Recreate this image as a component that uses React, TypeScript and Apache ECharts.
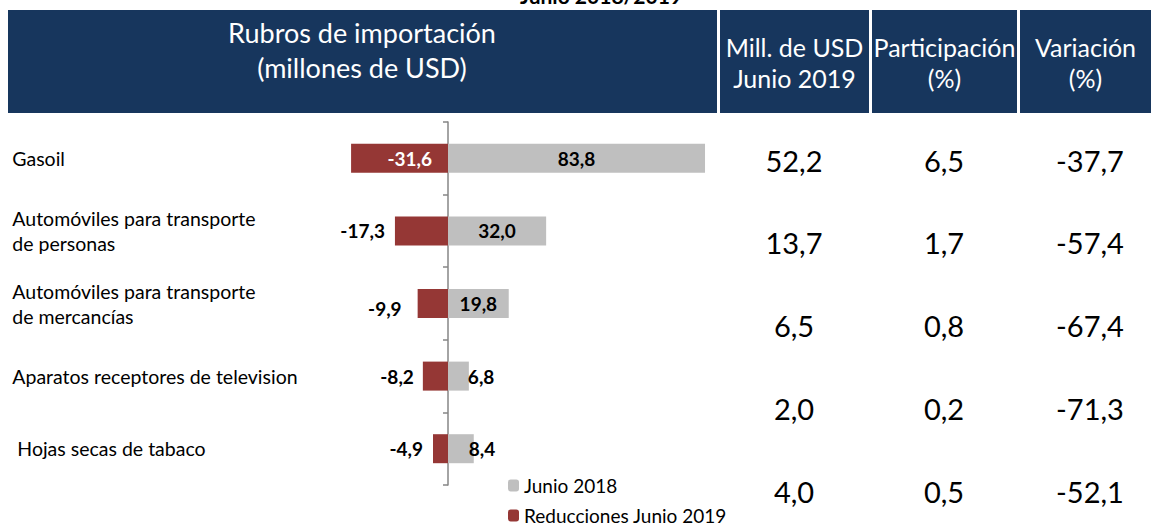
import React, { useEffect, useRef } from "react";
import * as echarts from "echarts";

const categories = [
  "Gasoil",
  "Automóviles para transporte\nde personas",
  "Automóviles para transporte\nde mercancías",
  "Aparatos receptores de television",
  "Hojas secas de tabaco",
];
const junio2018 = [83.8, 32.0, 19.8, 6.8, 8.4];
const reducciones2019 = [-31.6, -17.3, -9.9, -8.2, -4.9];
const millJunio2019 = [52.2, 13.7, 6.5, 2.0, 4.0];
const participacion = [6.5, 1.7, 0.8, 0.2, 0.5];
const variacion = [-37.7, -57.4, -67.4, -71.3, -52.1];

const seriesNames = ["Junio 2018", "Reducciones Junio 2019"];
const headerLeft = "Rubros de importación\n(millones de USD)";
const headerCols = ["Mill. de USD\nJunio 2019", "Participación\n(%)", "Variación\n(%)"];
const topTitle = "Junio 2018/2019";

const FONT = "Lato";
const NAVY = "#17365D";
const GREY = "#BFBFBF";
const RED = "#953735";

const fmt = (v: number) => v.toFixed(1).replace(".", ",");

export default function App() {
  const ref = useRef<HTMLDivElement>(null);
  useEffect(() => {
    if (!ref.current) return;
    const chart = echarts.init(ref.current, undefined, { renderer: "svg" });

    const greyLabels = [
      { position: "inside" },
      { position: "inside" },
      { position: "inside" },
      { position: "right", distance: -1 },
      { position: "right", distance: -5 },
    ];
    const redLabels = [
      { position: "insideRight", distance: 16, color: "#ffffff" },
      { position: "left", distance: 10 },
      { position: "left", distance: 16, offset: [0, 5] },
      { position: "left", distance: 9 },
      { position: "left", distance: 10 },
    ];

    const colX = [794, 944, 1090];
    const tableCols = [millJunio2019, participacion, variacion];
    const tableTexts: any[] = [];
    tableCols.forEach((col, c) => {
      col.forEach((v, i) => {
        tableTexts.push({
          type: "text",
          x: colX[c],
          y: 160 + i * 82.8,
          style: {
            text: fmt(v),
            align: "center",
            verticalAlign: "middle",
            font: `29px ${FONT}`,
            fill: "#000000",
          },
        });
      });
    });

    const headerBoxes = [
      [8, 709],
      [720, 149],
      [872, 145],
      [1020, 131],
    ];
    const headerGraphics: any[] = headerBoxes.map(([x, w]) => ({
      type: "rect",
      shape: { x, y: 10, width: w, height: 103 },
      style: { fill: NAVY },
    }));
    headerGraphics.push({
      type: "text",
      x: 362,
      y: 50,
      style: {
        text: headerLeft,
        align: "center",
        verticalAlign: "middle",
        font: `27px ${FONT}`,
        lineHeight: 35,
        fill: "#ffffff",
      },
    });
    headerCols.forEach((t, i) => {
      const [x, w] = headerBoxes[i + 1];
      headerGraphics.push({
        type: "text",
        x: x + w / 2,
        y: 62,
        style: {
          text: t,
          align: "center",
          verticalAlign: "middle",
          font: `25px ${FONT}`,
          lineHeight: 31,
          fill: "#ffffff",
        },
      });
    });
    headerGraphics.push({
      type: "text",
      x: 601,
      y: 6,
      style: {
        text: topTitle,
        align: "center",
        verticalAlign: "bottom",
        font: `bold 21px ${FONT}`,
        fill: "#000000",
      },
    });

    const legendCommon = {
      orient: "vertical",
      left: 508,
      padding: 0,
      itemWidth: 11,
      itemHeight: 12,
      textStyle: { fontFamily: FONT, fontSize: 19, color: "#000000" },
    };

    chart.setOption({
      animation: false,
      backgroundColor: "#ffffff",
      textStyle: { fontFamily: FONT },
      grid: {
        left: 141.3,
        right: 89.6,
        top: 122,
        bottom: 40,
        containLabel: false,
        outerBoundsMode: "none",
      },
      legend: [
        { ...legendCommon, top: 476, data: [seriesNames[0]] },
        { ...legendCommon, top: 506, data: [seriesNames[1]] },
      ],
      xAxis: {
        type: "value",
        min: -100,
        max: 200,
        show: false,
      },
      yAxis: {
        type: "category",
        inverse: true,
        data: categories,
        axisLine: { show: true, onZero: true, lineStyle: { color: "#868686", width: 1.5 } },
        axisTick: { show: true, length: 5, lineStyle: { color: "#868686", width: 1.5 } },
        axisLabel: {
          align: "left",
          margin: 129,
          fontFamily: FONT,
          fontSize: 19.5,
          lineHeight: 25,
          color: "#000000",
          formatter: (v: string, i: number) => (i === 4 ? "{p|" + v + "}" : v),
          rich: { p: { padding: [0, 0, 0, 5], fontFamily: FONT, fontSize: 19.5, color: "#000000" } },
        },
        splitLine: { show: false },
      },
      series: [
        {
          name: seriesNames[0],
          type: "bar",
          barWidth: 29,
          barGap: "-100%",
          itemStyle: { color: GREY },
          data: junio2018.map((v, i) => ({
            value: v,
            label: {
              show: true,
              ...greyLabels[i],
              formatter: (p: any) => fmt(p.value),
              fontFamily: FONT,
              fontWeight: "bold",
              fontSize: 19,
              color: "#000000",
            },
          })),
        },
        {
          name: seriesNames[1],
          type: "bar",
          barWidth: 29,
          barGap: "-100%",
          itemStyle: { color: RED },
          data: reducciones2019.map((v, i) => ({
            value: v,
            label: {
              show: true,
              color: "#000000",
              ...redLabels[i],
              formatter: (p: any) => fmt(p.value),
              fontFamily: FONT,
              fontWeight: "bold",
              fontSize: 19,
            },
          })),
        },
      ],
      graphic: [...headerGraphics, ...tableTexts],
    });
    return () => chart.dispose();
  }, []);

  return (
    <div
      ref={ref}
      style={{ position: "absolute", left: 0, top: 0, width: 1151, height: 525 }}
    />
  );
}
